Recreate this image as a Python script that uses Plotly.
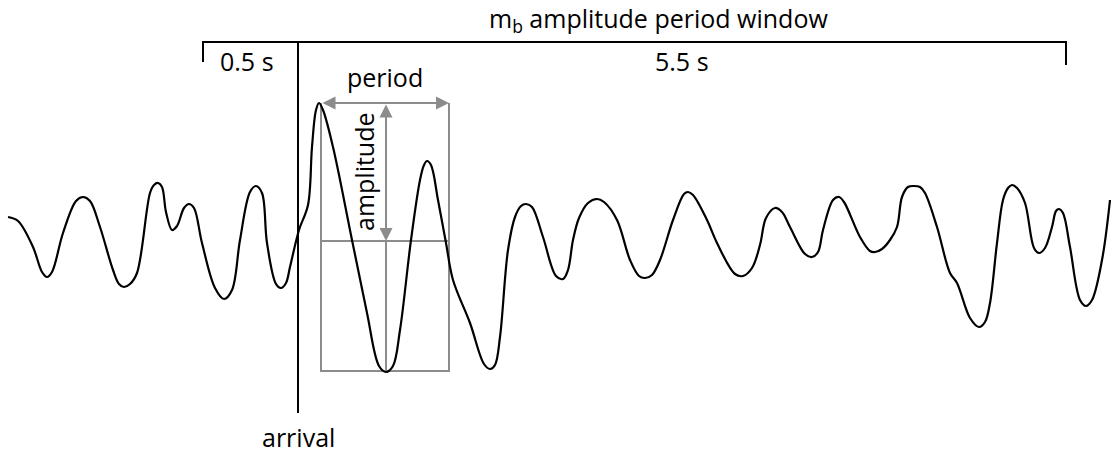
import plotly.graph_objects as go

# Waveform trace points (pixel-space coordinates)
wave_x = [8, 18, 33, 42, 47, 52, 63, 76, 83, 90, 100, 113, 119, 124, 130, 137, 150, 154, 158, 162,
          166, 172, 177, 184, 189, 194, 202, 215, 224, 232, 240, 250, 256, 262, 267, 276, 281, 286, 290,
          299, 308, 312, 316, 319, 323, 333, 352, 367, 379, 386, 393, 400, 411, 420, 424, 427, 431, 438,
          446, 453, 470, 484, 490, 495, 500, 508, 515, 521, 526, 532, 543, 556, 563, 568, 573, 579, 588,
          597, 604, 617, 630, 639, 645, 652, 660, 673, 684, 688, 693, 707, 717, 735, 743, 752, 760, 766,
          775, 782, 790, 805, 812, 818, 823, 833, 839, 844, 860, 870, 875, 882, 890, 897, 902, 908,
          914, 920, 925, 937, 950, 957, 970, 979, 985, 990, 997, 1003, 1008, 1012, 1017, 1025, 1034, 1039,
          1045, 1052, 1056, 1059, 1063, 1070, 1080, 1086, 1092, 1102, 1110]
wave_y = [217, 221, 247, 272, 277, 272, 233, 201, 197, 201, 227, 270, 284, 287, 284, 273, 193, 185, 183, 187,
          212, 230, 226, 208, 204, 208, 243, 288, 299, 290, 240, 192, 186, 193, 243, 284, 288, 283, 267,
          230, 205, 147, 110, 103, 110, 147, 240, 313, 366, 372, 366, 330, 240, 180, 165, 161, 165, 200,
          243, 280, 323, 364, 369, 365, 337, 250, 217, 206, 204, 207, 237, 276, 279, 270, 240, 218, 203,
          199, 202, 220, 260, 276, 278, 275, 260, 220, 194, 192, 195, 220, 243, 274, 276, 268, 245, 218,
          208, 212, 227, 254, 257, 252, 230, 200, 197, 202, 237, 251, 252, 249, 240, 227, 197, 187,
          186, 187, 193, 227, 273, 283, 318, 327, 322, 303, 243, 200, 188, 185, 188, 203, 248, 253,
          248, 227, 211, 209, 213, 247, 300, 306, 300, 260, 200]

GRAY = "rgb(140,140,140)"
FONT = "Open Sans"

fig = go.Figure()

# Measurement box (gray)
box_x = [321, 449]
box_y = [103, 241, 371]
fig.add_trace(go.Scatter(x=[box_x[0], box_x[0], box_x[1], box_x[1]],
                         y=[box_y[0], box_y[2], box_y[2], box_y[0]],
                         mode="lines", line=dict(color=GRAY, width=2), hoverinfo="skip"))
fig.add_trace(go.Scatter(x=[box_x[0], box_x[1]], y=[box_y[1], box_y[1]],
                         mode="lines", line=dict(color=GRAY, width=2), hoverinfo="skip"))
fig.add_trace(go.Scatter(x=[386, 386], y=[box_y[1], box_y[2]],
                         mode="lines", line=dict(color=GRAY, width=2), hoverinfo="skip"))

# Bracket and arrival line
fig.add_trace(go.Scatter(x=[203, 203, 1066, 1066], y=[62, 42, 42, 65],
                         mode="lines", line=dict(color="black", width=2), hoverinfo="skip"))
fig.add_trace(go.Scatter(x=[298, 298], y=[42, 413],
                         mode="lines", line=dict(color="black", width=2), hoverinfo="skip"))

# Waveform
fig.add_trace(go.Scatter(x=wave_x, y=wave_y, mode="lines",
                         line=dict(color="black", width=2.2, shape="spline", smoothing=1.0),
                         hoverinfo="skip"))

ann_font = dict(family=FONT, size=25, color="black")
annotations = [
    dict(x=658, y=19, text="m<sub>b</sub> amplitude period window", showarrow=False, font=ann_font),
    dict(x=247, y=61, text="0.5 s", showarrow=False, font=ann_font),
    dict(x=682, y=61, text="5.5 s", showarrow=False, font=ann_font),
    dict(x=385, y=77, text="period", showarrow=False, font=ann_font),
    dict(x=364, y=172, text="amplitude", showarrow=False, font=ann_font, textangle=-90),
    dict(x=298, y=437, text="arrival", showarrow=False, font=ann_font),
    # period double arrow
    dict(x=449, y=103, ax=321, ay=103, xref="x", yref="y", axref="x", ayref="y", text="",
         showarrow=True, arrowhead=2, startarrowhead=2, arrowside="end+start",
         arrowsize=1.3, startarrowsize=1.3, arrowwidth=2, arrowcolor=GRAY),
    # amplitude double arrow
    dict(x=386, y=241, ax=386, ay=103, xref="x", yref="y", axref="x", ayref="y", text="",
         showarrow=True, arrowhead=2, startarrowhead=2, arrowside="end+start",
         arrowsize=1.3, startarrowsize=1.3, arrowwidth=2, arrowcolor=GRAY),
]
for a in annotations:
    a.setdefault("xref", "x")
    a.setdefault("yref", "y")

fig.update_layout(
    width=1111, height=453,
    margin=dict(l=0, r=0, t=0, b=0),
    paper_bgcolor="white", plot_bgcolor="white",
    showlegend=False,
    xaxis=dict(range=[0, 1111], visible=False, fixedrange=True),
    yaxis=dict(range=[453, 0], visible=False, fixedrange=True),
    annotations=annotations,
)

fig.write_html("out.html")
